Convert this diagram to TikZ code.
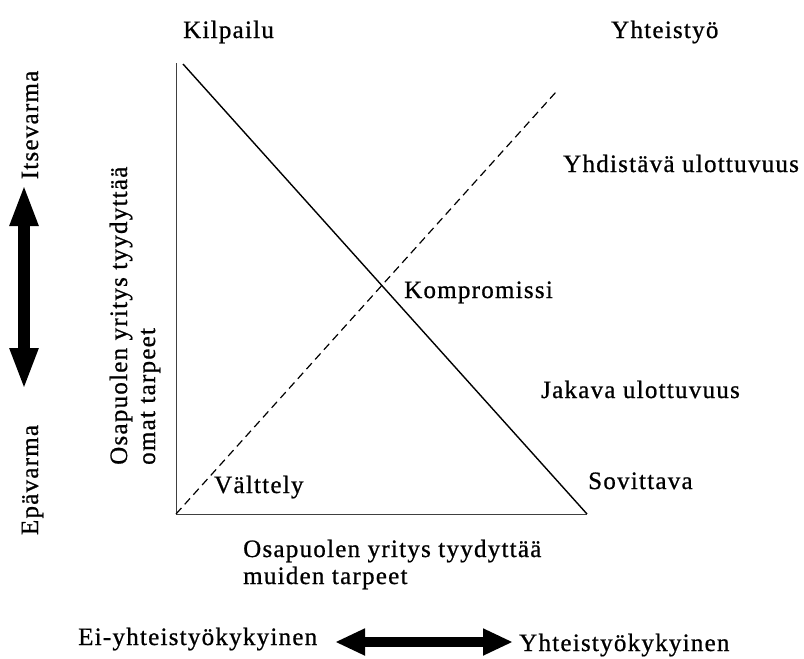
\documentclass[tikz,border=0pt]{standalone}
\usepackage{fontspec}
\setmainfont[LetterSpace=5,FakeBold=0.8]{Liberation Serif}
\usetikzlibrary{arrows.meta}
\begin{document}
\begin{tikzpicture}[x=1pt,y=-1pt,
  lbl/.style={font=\fontsize{25}{30}\selectfont, inner sep=0pt, anchor=base west},
  rlbl/.style={lbl, rotate=90},
  axis/.style={line width=1pt, draw=black!75},
  solidline/.style={line width=1.4pt},
  dashline/.style={line width=1.2pt, dash pattern=on 8pt off 5pt},
  bigarrowv/.style={line width=12pt, {Triangle[width=26pt,length=42pt]}-{Triangle[width=26pt,length=42pt]}},
  bigarrowh/.style={line width=10pt, {Triangle[width=25pt,length=30pt]}-{Triangle[width=25pt,length=30pt]}}]
\useasboundingbox (0,0) rectangle (804,659);
% coordinates
\coordinate (O) at (176,514);
\coordinate (ytop) at (176,63);
\coordinate (xend) at (587,514);
\coordinate (s1) at (183,64);
\coordinate (s2) at (587,514);
\coordinate (d2) at (556,92);
% axes and lines
\draw[axis] (ytop) -- (O) -- (xend);
\draw[solidline] (s1) -- (s2);
\draw[dashline] (O) -- (d2);
% labels
\node[lbl] (kilp) at (183,38) {Kilpailu};
\node[lbl] (yht) at (611,38) {Yhteistyö};
\node[lbl] (yhd) at (563,172) {Yhdistävä ulottuvuus};
\node[lbl] (komp) at (404,298) {Kompromissi};
\node[lbl] (jak) at (541,398) {Jakava ulottuvuus};
\node[lbl] (sov) at (588,489) {Sovittava};
\node[lbl] (valt) at (214,493) {Välttely};
\node[lbl] (mu1) at (243,557) {Osapuolen yritys tyydyttää};
\node[lbl] (mu2) at (243,584) {muiden tarpeet};
\node[rlbl] (om1) at (127,465) {Osapuolen yritys tyydyttää};
\node[rlbl] (om2) at (155,465) {omat tarpeet};
\node[rlbl, anchor=base] (its) at (38,125) {Itsevarma};
\node[rlbl, anchor=base] (epa) at (38,480) {Epävarma};
\node[lbl] (eiy) at (78,645) {Ei-yhteistyökykyinen};
\node[lbl] (yhk) at (519,651) {Yhteistyökykyinen};
% thick arrows
\coordinate (va1) at (24,184);
\coordinate (va2) at (24,390);
\coordinate (ha1) at (335,642);
\coordinate (ha2) at (513,642);
\draw[bigarrowv] (va1) -- (va2);
\draw[bigarrowh] (ha1) -- (ha2);
\end{tikzpicture}
\end{document}
